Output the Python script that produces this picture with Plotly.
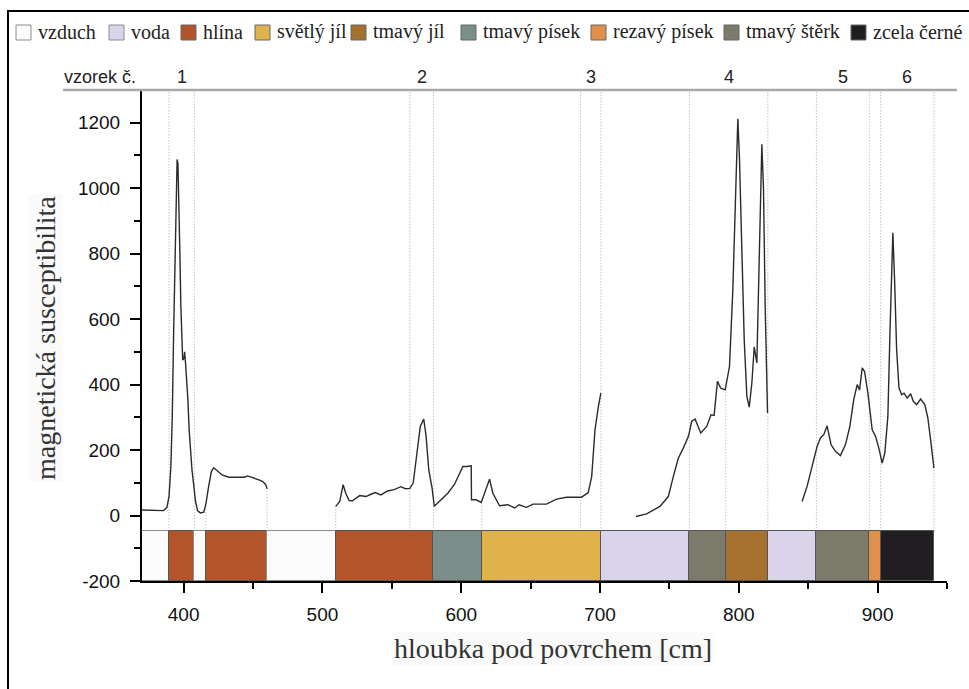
import numpy as np
import plotly.graph_objects as go

# --- magnetic susceptibility profile, four measured runs (depth in cm) ---
depth_run1 = [370, 378, 385.5, 388, 389.5, 390.8, 391.8, 392.8, 393.6, 394.4, 395.3, 395.9,
              396.6, 397.3, 398, 398.8, 399.3, 400.2, 400.7, 401.3, 402, 403, 404, 405, 406,
              407.2, 408.5, 410, 412, 414.5, 416, 418, 420, 421.7, 424, 427.7, 432.5, 439.7,
              444, 446, 449.4, 454.2, 457.1, 459, 460.2]
susc_run1 = [17, 15, 15, 25, 60, 150, 300, 560, 760, 950, 1088, 1075,
             960, 800, 640, 520, 475, 480, 500, 470, 430, 360, 260, 190, 140,
             95, 45, 15, 8, 10, 35, 88, 135, 146, 138, 124, 117, 117,
             117, 121, 115, 109, 104, 95, 82]

depth_run2 = [509.6, 512.5, 514.9, 516.8, 519.2, 521.6, 526.9, 531.3, 535, 538, 542.1, 546.9,
              551.7, 556.6, 559.7, 563, 565.4, 567.9, 570.5, 573, 574.7, 576.6, 579, 580.6,
              584.2, 590.3, 595.1, 598.5, 601.2, 604, 607.2, 607.4, 610.8, 614.4, 618, 620.4,
              622.8, 627.6, 633.6, 638.5, 641.6, 647, 651.8, 661.4, 668.7, 675.9, 686.7,
              691.5, 694, 696.4, 698.8, 700.6]
susc_run2 = [28, 43, 94, 68, 46, 45, 61, 58, 65, 70, 63, 75,
             79, 88, 82, 83, 99, 180, 272, 295, 242, 140, 84, 28,
             43, 68, 95, 125, 150, 150, 152, 48, 48, 40, 79, 111,
             68, 30, 33, 23, 33, 25, 35, 35, 50, 56, 56,
             70, 119, 262, 333, 374]

depth_run3 = [725.9, 733.6, 743.2, 749.2, 752.8, 756.4, 760, 763.7, 766.1, 768.5, 772.6, 776.9,
              780, 782.2, 784.6, 787, 790.2, 793.3, 795.7, 797.4, 799.3, 800.5, 802.2, 803.9,
              805.8, 807.5, 809.4, 811.1, 813, 814.7, 816.6, 817.8, 819, 820.7]
susc_run3 = [-3, 5, 28, 58, 119, 175, 206, 242, 288, 295, 252, 272,
             308, 306, 410, 389, 384, 456, 690, 945, 1212, 1088, 792, 537,
             364, 331, 405, 515, 466, 792, 1134, 996, 639, 313]

depth_run4 = [845.6, 849.2, 852.8, 856.4, 858.8, 861.2, 863.6, 866.5, 869.6, 873.2, 876.8, 880,
              882.8, 885.3, 887, 888.9, 890.6, 893, 896.1, 898.5, 900.9, 903.3, 905.2, 907.4,
              908.9, 910.1, 911, 912.3, 913.7, 915.4, 917.3, 919, 921.4, 923.8, 925.7, 928.1,
              931, 934, 936.2, 938.2, 940.6]
susc_run4 = [43, 89, 150, 211, 237, 247, 274, 216, 196, 183, 216, 272,
             354, 400, 384, 451, 440, 374, 262, 242, 206, 160, 191, 303,
             558, 761, 864, 711, 507, 390, 369, 374, 359, 372, 349, 339,
             356, 339, 298, 231, 145]

# --- soil layers below the profile ---
layer_edges = [370, 389.5, 407.7, 416, 460, 509.6, 580, 614.8, 700.6, 764.4, 790.6,
               820.9, 855.9, 894, 902.2, 940.6]
layer_names = ["vzduch", "hlína", "vzduch", "hlína", "vzduch", "hlína", "tmavý písek",
               "světlý jíl", "voda", "tmavý štěrk", "tmavý jíl", "voda", "tmavý štěrk",
               "rezavý písek", "zcela černé"]
layer_bottom = -200
layer_top = -48

# --- sampled intervals ---
sample_ids = ["1", "2", "3", "4", "5", "6"]
sample_from = [389.5, 563, 686, 764.4, 855.9, 902.2]
sample_to = [407.7, 580, 700.6, 820.9, 894, 940.6]

legend_names = ["vzduch", "voda", "hlína", "světlý jíl", "tmavý jíl", "tmavý písek",
                "rezavý písek", "tmavý štěrk", "zcela černé"]
legend_colors = ["#fbfbfb", "#d9d4ea", "#b3542a", "#dfb24b", "#a6712f", "#7b8e8a",
                 "#e0904b", "#7c7a6b", "#211e22"]
color_of = dict(zip(legend_names, legend_colors))

x_ticks = [400, 500, 600, 700, 800, 900]
y_ticks = [-200, 0, 200, 400, 600, 800, 1000, 1200]

runs = [(depth_run1, susc_run1), (depth_run2, susc_run2),
        (depth_run3, susc_run3), (depth_run4, susc_run4)]

W, H = 969, 689
ML, MR, MT, MB = 142, 22, 90, 108
PW, PH = W - ML - MR, H - MT - MB


def px(x):
    return (x - ML) / PW


def py(y):
    return (H - MB - y) / PH


SANS = "Liberation Sans, Arial, sans-serif"
SERIF = "Liberation Serif, Times New Roman, serif"

fig = go.Figure()

# layer strip
lo = np.array(layer_edges[:-1])
hi = np.array(layer_edges[1:])
fig.add_trace(go.Bar(
    x=(lo + hi) / 2, width=hi - lo,
    y=[layer_top - layer_bottom] * len(layer_names), base=layer_bottom,
    marker=dict(color=[color_of[n] for n in layer_names],
                line=dict(color=["#8c8c8c" if n == "vzduch" else "#555555" for n in layer_names],
                          width=1)),
    showlegend=False, hoverinfo="skip"))

# profile curve, gaps between runs
xs, ys = [], []
for d, s in runs:
    xs += list(d) + [None]
    ys += list(s) + [None]
fig.add_trace(go.Scatter(x=xs, y=ys, mode="lines",
                         line=dict(color="#2b2b2b", width=1.4),
                         connectgaps=False, showlegend=False, hoverinfo="skip"))

shapes = []
dot = dict(color="#a8a8a8", width=1, dash="1px,2px")

# sample interval boundaries, full height
sample_edges = sorted(set(sample_from + sample_to))
for e in sample_edges:
    shapes.append(dict(type="line", xref="x", yref="y", x0=e, x1=e,
                       y0=layer_top, y1=1300, line=dot, layer="below"))


def curve_at(x):
    for d, s in runs:
        if d[0] <= x <= d[-1]:
            return float(np.interp(x, d, s))
    return None


# remaining layer boundaries, from the strip up to the curve
for e in layer_edges[1:-1]:
    if any(abs(e - s) < 1e-6 for s in sample_edges):
        continue
    v = curve_at(e)
    if v is not None:
        shapes.append(dict(type="line", xref="x", yref="y", x0=e, x1=e,
                           y0=layer_top, y1=v, line=dot, layer="below"))

# top rule carrying the sample numbers
shapes.append(dict(type="line", xref="paper", yref="paper", x0=px(63), x1=px(957),
                   y0=1, y1=1, line=dict(color="#a8a8a8", width=2.5)))

# outer frame
shapes.append(dict(type="rect", xref="paper", yref="paper", x0=px(8), x1=px(1010),
                   y0=py(730), y1=py(11), line=dict(color="black", width=2),
                   fillcolor="rgba(0,0,0,0)"))

annotations = []
annotations.append(dict(text="vzorek č.", xref="paper", yref="paper", x=px(62), y=py(77),
                        xanchor="left", yanchor="middle", showarrow=False,
                        font=dict(family=SANS, size=18, color="#222")))
for sid, a, b in zip(sample_ids, sample_from, sample_to):
    annotations.append(dict(text=sid, xref="x", yref="paper", x=(a + b) / 2, y=py(77),
                            xanchor="center", yanchor="middle", showarrow=False,
                            font=dict(family=SANS, size=18, color="#222")))

# legend row
sw_left = [16, 109, 181, 255, 351, 461, 591, 724, 851]
for name, col, xl in zip(legend_names, legend_colors, sw_left):
    shapes.append(dict(type="rect", xref="paper", yref="paper",
                       x0=px(xl), x1=px(xl + 15), y0=py(40), y1=py(25),
                       fillcolor=col, line=dict(color="#8c8c8c" if name in ("vzduch", "voda") else "#666",
                                                width=1)))
    annotations.append(dict(text=name, xref="paper", yref="paper", x=px(xl + 20), y=py(32),
                            xanchor="left", yanchor="middle", showarrow=False,
                            font=dict(family=SERIF, size=20, color="#222")))

# axis titles
annotations.append(dict(text="magnetická susceptibilita", xref="paper", yref="paper",
                        x=px(45), y=py(338), textangle=-90, showarrow=False,
                        xanchor="center", yanchor="middle", bgcolor="#fafafa",
                        font=dict(family=SERIF, size=28, color="#333")))
annotations.append(dict(text="hloubka pod povrchem [cm]", xref="paper", yref="paper",
                        x=px(553), y=py(648), showarrow=False,
                        xanchor="center", yanchor="middle", bgcolor="#fafafa",
                        font=dict(family=SERIF, size=28, color="#333")))

fig.update_layout(
    width=W, height=H,
    margin=dict(l=ML, r=MR, t=MT, b=MB, pad=0),
    paper_bgcolor="white", plot_bgcolor="white",
    barmode="overlay", bargap=0,
    shapes=shapes, annotations=annotations,
    showlegend=False,
    xaxis=dict(range=[370, 950], showgrid=False, zeroline=False,
               showline=True, linecolor="black", linewidth=2,
               ticks="outside", ticklen=10, tickwidth=2, tickcolor="black",
               tickvals=x_ticks, ticktext=[str(v) for v in x_ticks],
               ticklabelstandoff=5,
               tickfont=dict(family=SANS, size=19, color="#111"),
               minor=dict(tickvals=[450, 550, 650, 750, 850, 950], ticks="outside",
                          ticklen=6, tickwidth=2, tickcolor="black")),
    yaxis=dict(range=[-200, 1300], showgrid=False, zeroline=False,
               showline=True, linecolor="black", linewidth=2,
               ticks="outside", ticklen=10, tickwidth=2, tickcolor="black",
               tickvals=y_ticks, ticktext=[str(v) for v in y_ticks],
               ticklabelstandoff=6,
               tickfont=dict(family=SANS, size=19, color="#111"),
               minor=dict(tickvals=[-100, 100, 300, 500, 700, 900, 1100, 1300],
                          ticks="outside", ticklen=6, tickwidth=2, tickcolor="black")),
)

fig.write_html("out.html")
